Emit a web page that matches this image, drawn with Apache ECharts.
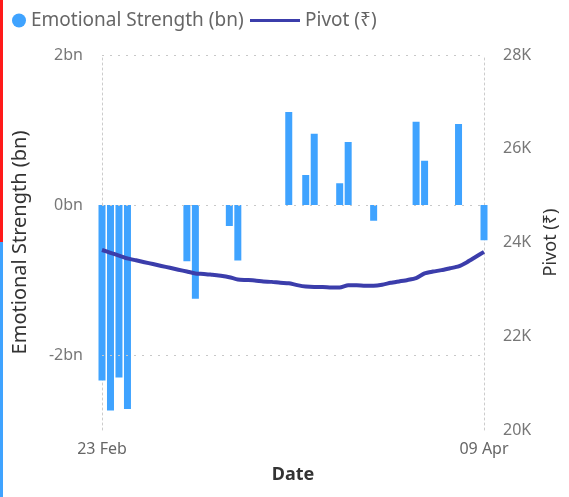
<!DOCTYPE html>
<html>
<head>
<meta charset="utf-8">
<script src="https://cdn.jsdelivr.net/npm/echarts@6/dist/echarts.min.js"></script>
<style>
  html, body { margin: 0; padding: 0; background: #fff; }
  #chart { width: 569px; height: 497px; }
</style>
</head>
<body>
<div id="chart"></div>
<script>
// dates on the x axis, one per day
var dates = [
  '23 Feb', '24 Feb', '25 Feb', '26 Feb', '27 Feb', '28 Feb',
  '01 Mar', '02 Mar', '03 Mar', '04 Mar', '05 Mar', '06 Mar', '07 Mar', '08 Mar', '09 Mar', '10 Mar',
  '11 Mar', '12 Mar', '13 Mar', '14 Mar', '15 Mar', '16 Mar', '17 Mar', '18 Mar', '19 Mar', '20 Mar',
  '21 Mar', '22 Mar', '23 Mar', '24 Mar', '25 Mar', '26 Mar', '27 Mar', '28 Mar', '29 Mar', '30 Mar',
  '31 Mar', '01 Apr', '02 Apr', '03 Apr', '04 Apr', '05 Apr', '06 Apr', '07 Apr', '08 Apr', '09 Apr'
];

// Emotional Strength (bn), null = no bar that day
var strength = [
  -2.34, -2.74, -2.30, -2.72, null, null,
  null, null, null, null, -0.75, -1.25, null, null, null, -0.28,
  -0.74, null, null, null, null, null, 1.24, null, 0.40, 0.95,
  null, null, 0.29, 0.84, null, null, -0.21, null, null, null,
  null, 1.11, 0.59, null, null, null, 1.08, null, null, -0.47
];

// Pivot (₹)
var pivot = [
  23840, 23780, 23720, 23660, 23620, 23580,
  23540, 23500, 23460, 23420, 23380, 23340, 23330, 23310, 23290, 23260,
  23210, 23200, 23190, 23170, 23160, 23140, 23130, 23090, 23060, 23050,
  23050, 23040, 23040, 23090, 23090, 23080, 23080, 23100, 23140, 23170,
  23200, 23240, 23340, 23380, 23410, 23450, 23490, 23580, 23690, 23800
];

var leftTicks = [2, 0, -2];

var font = 'Noto Sans';
var dotted = { color: '#c8c8c8', width: 1, type: [2, 6] };

var myChart = echarts.init(document.getElementById('chart'));
var option = {
  animation: false,
  textStyle: { fontFamily: font },
  graphic: [
    { type: 'rect', left: 0, top: 0, shape: { width: 3, height: 242 }, style: { fill: '#ff1a1a' } },
    { type: 'rect', left: 0, top: 242, shape: { width: 3, height: 255 }, style: { fill: '#3fa3ff' } }
  ],
  legend: [
    {
      left: 7, top: 6,
      icon: 'circle',
      itemWidth: 14, itemHeight: 14, itemGap: 6,
      textStyle: { color: '#666', fontSize: 19, fontFamily: font },
      data: ['Emotional Strength (bn)']
    },
    {
      left: 245, top: 6,
      icon: 'rect',
      itemWidth: 50, itemHeight: 3,
      textStyle: { color: '#666', fontSize: 19, fontFamily: font },
      data: ['Pivot (₹)']
    }
  ],
  grid: { left: 102, right: 85, top: 55, bottom: 67 },
  xAxis: {
    type: 'category',
    data: dates,
    boundaryGap: false,
    name: 'Date',
    nameLocation: 'middle',
    nameGap: 36,
    nameTextStyle: { color: '#333', fontSize: 18, fontWeight: 'bold', fontFamily: font },
    axisLine: { show: false },
    axisTick: { show: false },
    axisLabel: {
      color: '#666', fontSize: 16, margin: 11,
      interval: function (i) { return i === 0 || i === dates.length - 1; }
    },
    splitLine: { show: false }
  },
  yAxis: [
    {
      type: 'value',
      min: -3, max: 2, interval: 1,
      name: 'Emotional Strength (bn)',
      nameLocation: 'middle',
      nameGap: 72,
      nameTextStyle: { color: '#333', fontSize: 20, fontFamily: font },
      axisLine: { show: true, lineStyle: { color: '#ccc', type: [2, 3] } },
      axisTick: { show: false },
      axisLabel: {
        color: '#777', fontSize: 16, margin: 19,
        formatter: function (v) { return leftTicks.indexOf(v) >= 0 ? v + 'bn' : ''; }
      },
      splitLine: { show: false }
    },
    {
      type: 'value',
      min: 20000, max: 28000, interval: 2000,
      name: 'Pivot (₹)',
      nameLocation: 'middle',
      nameGap: 58,
      nameRotate: 90,
      nameTextStyle: { color: '#333', fontSize: 18, fontFamily: font },
      axisLine: { show: true, lineStyle: { color: '#ccc', type: [2, 3] } },
      axisTick: { show: false },
      axisLabel: {
        color: '#777', fontSize: 16, margin: 19,
        formatter: function (v) { return (v / 1000) + 'K'; }
      },
      splitLine: { show: false }
    }
  ],
  series: [
    {
      name: 'Emotional Strength (bn)',
      type: 'bar',
      yAxisIndex: 0,
      data: strength,
      barWidth: 7,
      clip: false,
      itemStyle: { color: '#3fa3ff' },
      markLine: {
        silent: true,
        symbol: 'none',
        label: { show: false },
        lineStyle: dotted,
        data: leftTicks.map(function (v) { return { yAxis: v }; })
      }
    },
    {
      name: 'Pivot (₹)',
      type: 'line',
      yAxisIndex: 1,
      data: pivot,
      showSymbol: false,
      symbol: 'none',
      smooth: 0.2,
      lineStyle: { color: '#3b3dab', width: 4 },
      itemStyle: { color: '#3b3dab' }
    }
  ]
};
myChart.setOption(option);
</script>
</body>
</html>
